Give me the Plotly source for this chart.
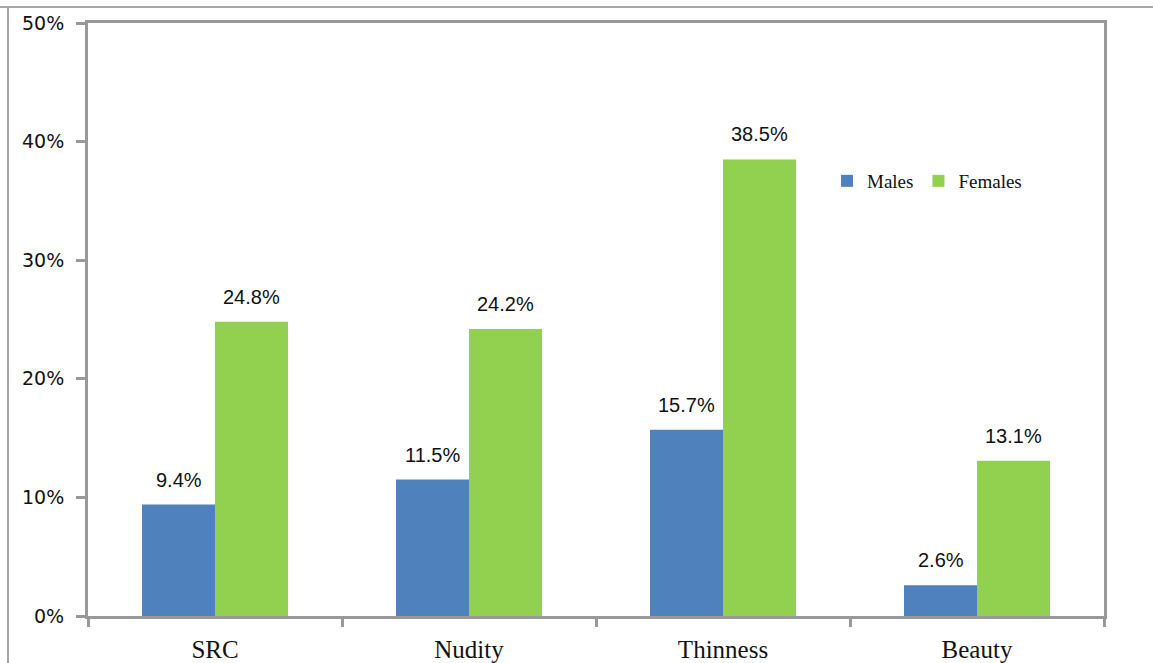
import plotly.graph_objects as go

categories = ["SRC", "Nudity", "Thinness", "Beauty"]
males = [9.4, 11.5, 15.7, 2.6]
females = [24.8, 24.2, 38.5, 13.1]
y_ticks = [0, 10, 20, 30, 40, 50]
y_tick_labels = ["0%", "10%", "20%", "30%", "40%", "50%"]

W, H = 1153, 663
L, R, T, B = 88, 1104, 23, 616

def px_x(px):
    return (px - L) / (R - L)

def px_y(py):
    return (B - py) / (B - T)

fig = go.Figure()
fig.add_trace(go.Bar(name="Males", x=categories, y=males, marker_color="#4F81BD",
                     marker_line_width=0))
fig.add_trace(go.Bar(name="Females", x=categories, y=females, marker_color="#92D050",
                     marker_line_width=0))

# value labels above bars
bar_half = 36.5
label_font = dict(family="Liberation Sans, Arial", size=20, color="#111111")
for series, shift in ((males, -bar_half), (females, bar_half)):
    for c, v in zip(categories, series):
        fig.add_annotation(x=c, y=v, text=f"{v}%", showarrow=False, xref="x", yref="y",
                           xshift=shift, yshift=12, yanchor="bottom", font=label_font)

axis_col = "#999999"
fig.update_layout(
    width=W, height=H,
    margin=dict(l=L, r=W - R, t=T, b=H - B, pad=0, autoexpand=False),
    paper_bgcolor="white", plot_bgcolor="white",
    barmode="group", bargap=0.425, bargroupgap=0,
    showlegend=True,
    legend=dict(orientation="h", x=px_x(827), y=px_y(181), xanchor="left", yanchor="middle",
                font=dict(family="Liberation Serif, Times New Roman", size=19, color="#111111"),
                bgcolor="rgba(0,0,0,0)", itemwidth=30, tracegroupgap=0),
    xaxis=dict(
        type="category", tickson="boundaries", ticks="outside", ticklen=8, tickwidth=3,
        tickcolor=axis_col, showline=True, linewidth=3, linecolor=axis_col, mirror=True,
        showgrid=False, ticklabelstandoff=9, automargin=False,
        tickfont=dict(family="Liberation Serif, Times New Roman", size=25, color="#111111"),
    ),
    yaxis=dict(
        range=[0, 50], tickvals=y_ticks, ticktext=y_tick_labels,
        ticks="outside", ticklen=9, tickwidth=3, tickcolor=axis_col,
        showline=True, linewidth=3, linecolor=axis_col, mirror=True,
        showgrid=False, zeroline=False, automargin=False,
        tickfont=dict(family="DejaVu Sans", size=19, color="#111111"),
        ticklabelstandoff=8,
    ),
    shapes=[
        dict(type="line", xref="paper", yref="paper", x0=px_x(0), x1=px_x(W), y0=px_y(7), y1=px_y(7),
             line=dict(color="#a6a6a6", width=2)),
        dict(type="line", xref="paper", yref="paper", x0=px_x(8), x1=px_x(8), y0=px_y(7), y1=px_y(H),
             line=dict(color="#a6a6a6", width=2)),
    ],
)

fig.write_html("out.html", config={"displayModeBar": False},
               post_script="document.body.style.margin='0';")
